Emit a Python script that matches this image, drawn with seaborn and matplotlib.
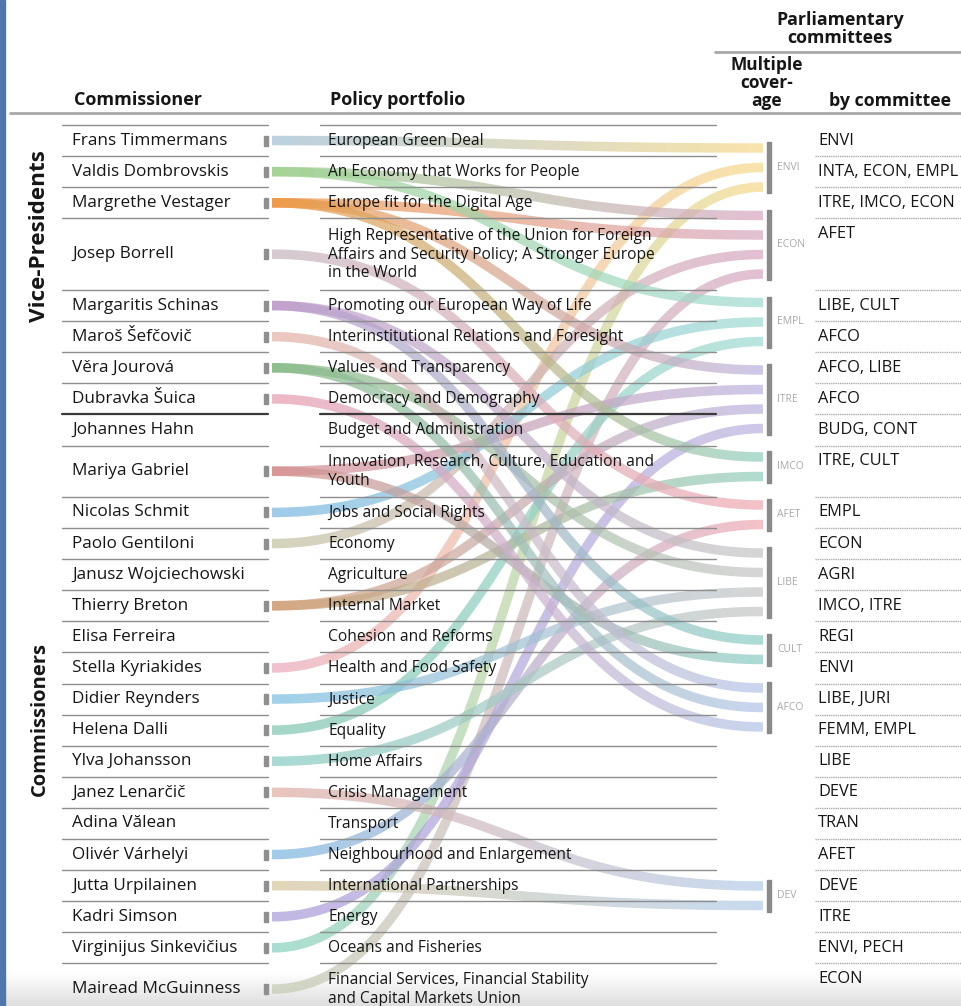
import numpy as np
import matplotlib
matplotlib.use('Agg')
import matplotlib.pyplot as plt
from matplotlib.patches import Polygon, Rectangle
import seaborn as sns

sns.set_theme(style="white")
plt.rcParams['font.family'] = ['Open Sans', 'DejaVu Sans']

# ── Data ──────────────────────────────────────────────────
commissioners = [
    "Frans Timmermans", "Valdis Dombrovskis", "Margrethe Vestager", "Josep Borrell",
    "Margaritis Schinas", "Maroš Šefčovič", "Věra Jourová", "Dubravka Šuica",
    "Johannes Hahn", "Mariya Gabriel", "Nicolas Schmit", "Paolo Gentiloni",
    "Janusz Wojciechowski", "Thierry Breton", "Elisa Ferreira", "Stella Kyriakides",
    "Didier Reynders", "Helena Dalli", "Ylva Johansson", "Janez Lenarčič",
    "Adina Vălean", "Olivér Várhelyi", "Jutta Urpilainen", "Kadri Simson",
    "Virginijus Sinkevičius", "Mairead McGuinness",
]
portfolios = [
    "European Green Deal", "An Economy that Works for People", "Europe fit for the Digital Age",
    "High Representative of the Union for Foreign\nAffairs and Security Policy; A Stronger Europe\nin the World",
    "Promoting our European Way of Life", "Interinstitutional Relations and Foresight",
    "Values and Transparency", "Democracy and Demography", "Budget and Administration",
    "Innovation, Research, Culture, Education and\nYouth",
    "Jobs and Social Rights", "Economy", "Agriculture", "Internal Market",
    "Cohesion and Reforms", "Health and Food Safety", "Justice", "Equality",
    "Home Affairs", "Crisis Management", "Transport", "Neighbourhood and Enlargement",
    "International Partnerships", "Energy", "Oceans and Fisheries",
    "Financial Services, Financial Stability\nand Capital Markets Union",
]
committees = [
    "ENVI", "INTA, ECON, EMPL", "ITRE, IMCO, ECON", "AFET", "LIBE, CULT", "AFCO",
    "AFCO, LIBE", "AFCO", "BUDG, CONT", "ITRE, CULT", "EMPL", "ECON", "AGRI",
    "IMCO, ITRE", "REGI", "ENVI", "LIBE, JURI", "FEMM, EMPL", "LIBE", "DEVE",
    "TRAN", "AFET", "DEVE", "ITRE", "ENVI, PECH", "ECON",
]
n_vice_presidents = 8
group_labels = {"DEVE": "DEV"}

# ── Styles ────────────────────────────────────────────────
person_colors = [
    "#a3bfd4", "#9fd18f", "#f09a48", "#c6b6c0", "#bf9bcc", "#e6b2a6", "#86ba86",
    "#e89daf", None, "#d68f8e", "#7cb8e2", "#c4c4a4", None, "#d3a17a", None,
    "#eaaabc", "#7cbfe2", "#82c6b2", "#86cdc2", "#e0aea4", None,
    "#7cb8e2", "#d8c79e", "#ab9cda", "#86d1c0", "#c4ccb4",
]
group_colors = {
    "ENVI": "#f6d98a", "ECON": "#d8a8c2", "EMPL": "#a0dbd2", "ITRE": "#bcb3df",
    "IMCO": "#92cfbe", "AFET": "#f0a9b3", "LIBE": "#c6c6c6", "CULT": "#8ccfc5",
    "AFCO": "#b4c4e8", "DEVE": "#b4cdea",
}
INK = "#161616"
LINE = "#8e8e8e"
W, H = 961, 1006

# ── Layout ────────────────────────────────────────────────
nlines = [p.count("\n") + 1 for p in portfolios]
heights = [31.1 + 20.3 * (k - 1) for k in nlines]
tops = 125 + np.concatenate([[0], np.cumsum(heights)[:-1]])
centers = tops + np.array(heights) / 2

codes = [c.split(", ") for c in committees]
order = []
for cs in codes:
    for c in cs:
        if c not in order:
            order.append(c)
members = {c: [i for i, cs in enumerate(codes) if c in cs] for c in order}
groups = [c for c in order if len(members[c]) > 1]

SLOT, GAP, PAD = 19.5, 16.5, 6
anchor = {"DEVE": 886}
slot_y = {}
y = 148
for g in groups:
    y = max(y, anchor.get(g, y))
    for i in members[g]:
        slot_y[(g, i)] = y
        y += SLOT
    y = slot_y[(g, members[g][-1])] + PAD + GAP + PAD

# ── Figure ────────────────────────────────────────────────
fig = plt.figure(figsize=(W / 100, H / 100), dpi=100)
ax = fig.add_axes([0, 0, 1, 1])
ax.set_xlim(0, W)
ax.set_ylim(H, 0)
ax.axis('off')

X0, X1, RW = 272, 763, 9.5


def ribbon(y0, y1, c0, c1):
    t = np.linspace(0, 1, 160)
    xm = (X0 + X1) / 2
    bx = (1 - t) ** 3 * X0 + 3 * (1 - t) ** 2 * t * xm + 3 * (1 - t) * t ** 2 * xm + t ** 3 * X1
    by = (1 - t) ** 3 * y0 + 3 * (1 - t) ** 2 * t * y0 + 3 * (1 - t) * t ** 2 * y1 + t ** 3 * y1
    dx, dy = np.gradient(bx), np.gradient(by)
    n = np.hypot(dx, dy)
    nx, ny = -dy / n, dx / n
    up = np.column_stack([bx + nx * RW / 2, by + ny * RW / 2])
    lo = np.column_stack([bx - nx * RW / 2, by - ny * RW / 2])
    poly = Polygon(np.vstack([up, lo[::-1]]), closed=True, transform=ax.transData)
    grad = np.array(sns.blend_palette([c0, c1], n_colors=96))[None, :, :3]
    ylo, yhi = min(y0, y1) - RW, max(y0, y1) + RW
    im = ax.imshow(grad, extent=[X0, X1, yhi, ylo], aspect='auto', alpha=0.72,
                   interpolation='bilinear', zorder=2)
    im.set_clip_path(poly)


for g in groups:
    for i in members[g]:
        ribbon(centers[i], slot_y[(g, i)], person_colors[i], group_colors[g])

ax.set_xlim(0, W)
ax.set_ylim(H, 0)

# rows
for i, (name, port, com) in enumerate(zip(commissioners, portfolios, committees)):
    ax.text(72, centers[i], name, fontsize=12.3, va='center', ha='left', color=INK, zorder=6)
    ax.text(328, centers[i] + 0.5, port, fontsize=11.2, va='center', ha='left', color=INK,
            linespacing=1.2, zorder=6)
    ax.text(818, tops[i] + 15.5, com, fontsize=11.8, va='center', ha='left', color=INK, zorder=6)
    if person_colors[i] is not None:
        ax.add_patch(Rectangle((264, centers[i] - 5), 3.5, 10, color='#8f8f8f', zorder=4))
    if i < len(commissioners) - 1:
        yb = tops[i] + heights[i]
        dark = i == n_vice_presidents - 1
        lc, lw = ('#3a3a3a', 1.6) if dark else (LINE, 1.0)
        ax.plot([62, 268], [yb, yb], color=lc, lw=lw, zorder=3)
        ax.plot([320, 716], [yb, yb], color=lc, lw=lw, zorder=3)
        ax.plot([815, W], [yb, yb], color='#aaaaaa', lw=1.0, ls=(0, (1, 0.6)), zorder=3)
ax.plot([62, 268], [125, 125], color=LINE, lw=1.0, zorder=3)
ax.plot([320, 716], [125, 125], color=LINE, lw=1.0, zorder=3)

# group bars
for g in groups:
    ys = [slot_y[(g, i)] for i in members[g]]
    ax.add_patch(Rectangle((766.5, ys[0] - PAD), 4, ys[-1] - ys[0] + 2 * PAD,
                           color='#8a8a8a', zorder=4))
    ax.text(777, (ys[0] + ys[-1]) / 2, group_labels.get(g, g), fontsize=7.5, color='#a8a8a8',
            va='center', ha='left', zorder=6)

# headers
ax.plot([10, W], [113, 113], color='#a8a8a8', lw=2, zorder=3)
ax.plot([715, W], [52, 52], color='#a8a8a8', lw=2, zorder=3)
ax.text(74, 100, "Commissioner", fontsize=13, fontweight='bold', va='center', color=INK)
ax.text(330, 100, "Policy portfolio", fontsize=13, fontweight='bold', va='center', color=INK)
ax.text(829, 101, "by committee", fontsize=12.8, fontweight='bold', va='center', color=INK)
ax.text(767, 83, "Multiple\ncover-\nage", fontsize=12.5, fontweight='bold', va='center', ha='center',
        linespacing=1.0, color=INK)
ax.text(840, 29, "Parliamentary\ncommittees", fontsize=12.8, fontweight='bold', va='center',
        ha='center', linespacing=0.98, color=INK)
ax.text(40, 236, "Vice-Presidents", fontsize=16.2, fontweight='bold', rotation=90,
        va='center', ha='center', color=INK)
ax.text(40, 719, "Commissioners", fontsize=14.5, fontweight='bold', rotation=90,
        va='center', ha='center', color=INK)

# screenshot frame: blue strip and soft bottom shade
ax.add_patch(Rectangle((0, 0), 5, H, color='#4f77ad', zorder=8))
shade = np.linspace(0, 1, 50)[:, None, None] * np.ones((50, 1, 1))
rgba = np.concatenate([np.full((50, 1, 3), 0.86), shade * 0.9], axis=2)
ax.imshow(rgba, extent=[0, W, H, 972], aspect='auto', zorder=1)
ax.set_xlim(0, W)
ax.set_ylim(H, 0)

fig.savefig('out.png', dpi=100)
